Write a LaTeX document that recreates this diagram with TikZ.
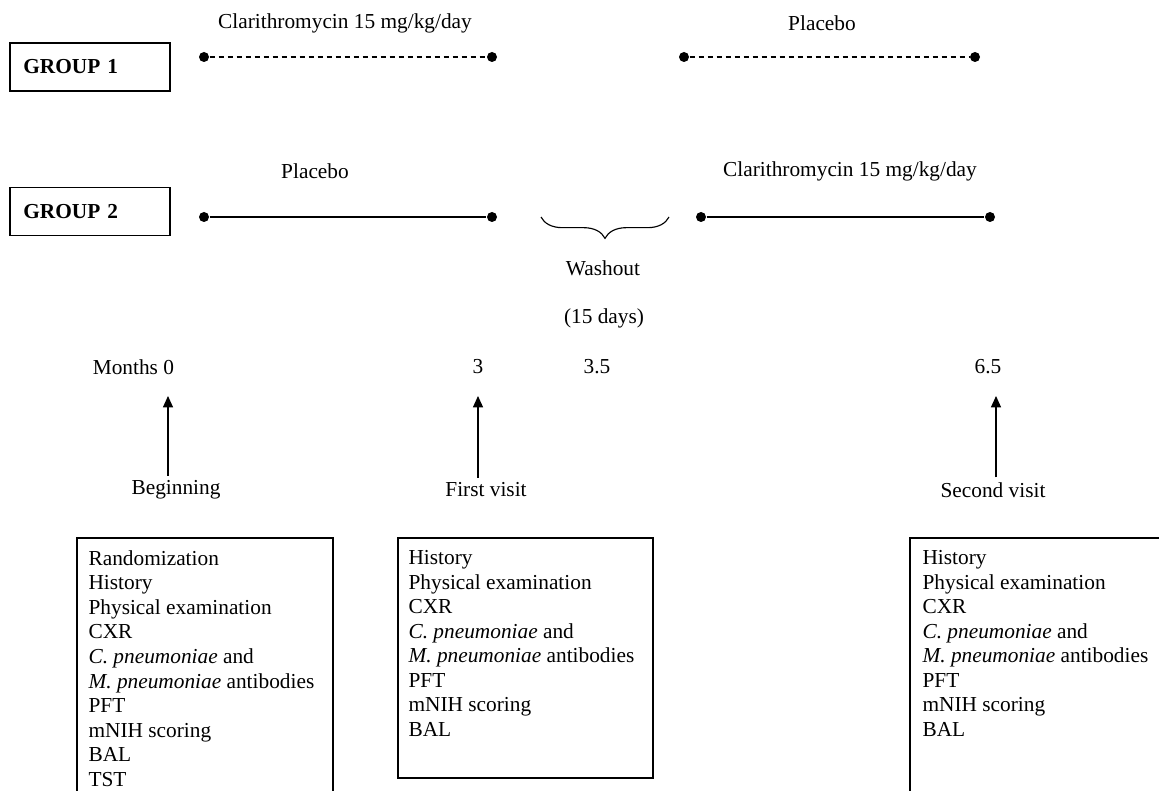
\documentclass[tikz,border=0pt]{standalone}
\usepackage{fontspec}
\setmainfont{Liberation Serif}
\usetikzlibrary{arrows.meta,decorations.pathreplacing}
\tikzset{
dot/.style={circle,fill,inner sep=0pt,minimum size=7.5pt},
dashline/.style={dash pattern=on 3.75pt off 3pt},
groupbox/.style={draw,minimum height=36pt,text width=100pt,inner xsep=10pt,align=left,font=\fontsize{16}{18.4}\selectfont\bfseries},
listtext/.style={anchor=north west,align=left,inner sep=0pt},
tick/.style={-{Triangle[length=8.5pt,width=7.5pt]}},
}
\begin{document}
\begin{tikzpicture}[x=0.75pt,y=-0.75pt,font=\fontsize{16}{18.4}\selectfont,line width=0.85pt]
\clip(0,0)rectangle(1159,791);
\node[groupbox](grp1)at(90,67){GROUP 1};
\node[groupbox](grp2)at(90,211.5){GROUP 2};
\node[dot](a1)at(204,57){};
\node[dot](b1)at(492,57){};
\node[dot](c1)at(684,57){};
\node[dot](d1)at(975,57){};
\draw[dashline](a1)--(b1);
\draw[dashline](c1)--(d1);
\node[dot](a2)at(204,217){};
\node[dot](b2)at(492,217){};
\node[dot](c2)at(701,217){};
\node[dot](d2)at(990,217){};
\draw(a2)--(b2);
\draw(c2)--(d2);
\node(drug1)at(345,23){Clarithromycin 15 mg/kg/day};
\node(plac1)at(822,23){Placebo};
\node(plac2)at(315,171){Placebo};
\node(drug2)at(850,171){Clarithromycin 15 mg/kg/day};
\coordinate(w1)at(541,217);
\coordinate(w2)at(669,217);
\draw[decorate,decoration={brace,mirror,amplitude=16pt}](w1)--(w2);
\node(wash)at(603,268){Washout};
\node(days)at(604,318){(15 days)};
\node[anchor=east](m0)at(179,367){Months 0};
\node(m3)at(478,367){3};
\node(m35)at(597,367){3.5};
\node(m65)at(988,367){6.5};
\node(start)at(176,490){Beginning};
\node(visit1)at(486,490){First visit};
\node(visit2)at(993,490){Second visit};
\coordinate(p0)at(168,396);
\coordinate(p3)at(478,396);
\coordinate(p65)at(996,396);
\draw[tick](p0|-start.north)--(p0);
\draw[tick](p3|-visit1.north)--(p3);
\draw[tick](p65|-visit2.north)--(p65);
\node[listtext](list0)at(88,550){Randomization\\History\\Physical examination\\CXR\\\textit{C. pneumoniae} and\\\textit{M. pneumoniae} antibodies\\PFT\\mNIH scoring\\BAL\\TST};
\node[listtext](list1)at(408,550){History\\Physical examination\\CXR\\\textit{C. pneumoniae} and\\\textit{M. pneumoniae} antibodies\\PFT\\mNIH scoring\\BAL};
\node[listtext](list2)at(922,550){History\\Physical examination\\CXR\\\textit{C. pneumoniae} and\\\textit{M. pneumoniae} antibodies\\PFT\\mNIH scoring\\BAL};
\draw(77,538)rectangle(333,810);
\draw(398,538)rectangle(653,778);
\draw(910,538)rectangle(1166,810);
\end{tikzpicture}
\end{document}
